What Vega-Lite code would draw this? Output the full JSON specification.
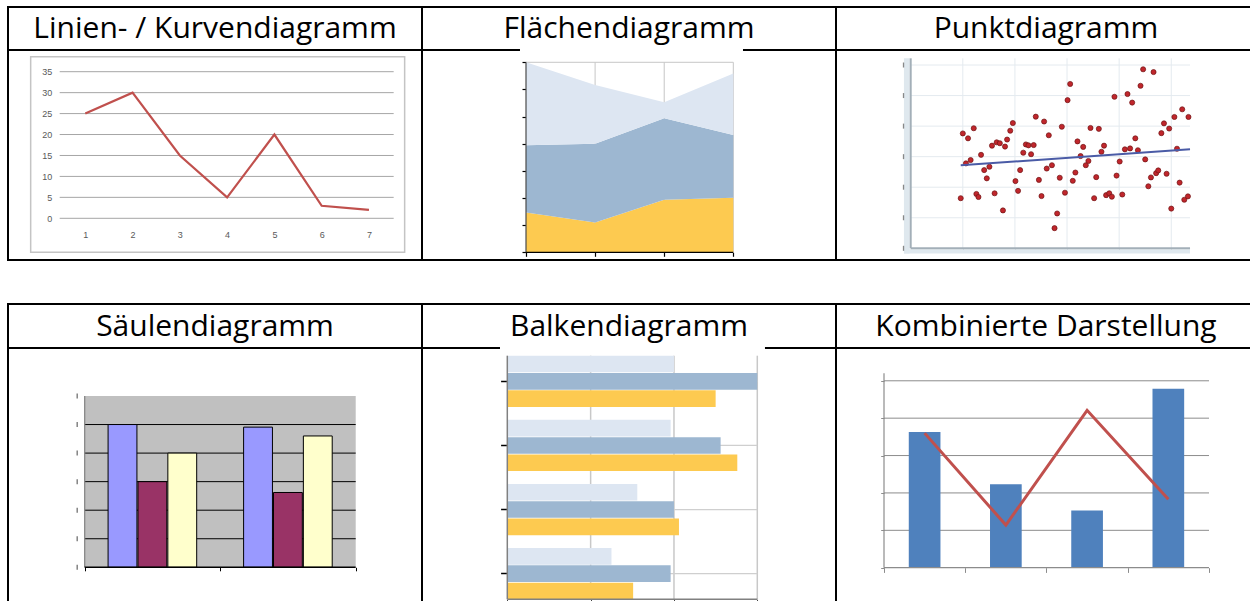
{
  "$schema": "https://vega.github.io/schema/vega-lite/v6.json",
  "padding": {"left": 7, "top": 6, "right": -7, "bottom": -8},
  "background": "white",
  "config": {
    "view": {"stroke": "black", "strokeWidth": 2},
    "axis": {"labelFont": "Liberation Sans", "labelFontSize": 9, "labelColor": "#595959"}
  },
  "columns": 3,
  "spacing": 0,
  "bounds": "flush",
  "align": "each",
  "resolve": {"scale": {"color": "independent"}, "legend": {"color": "independent"}},
  "concat": [
    {"width": 414, "height": 43, "view": {"stroke": "black", "strokeWidth": 2}, "data": {"values": [{"t": "Linien- / Kurvendiagramm"}]}, "mark": {"type": "text", "font": "Open Sans", "fontSize": 30, "baseline": "alphabetic", "dy": 9.5, "color": "black"}, "encoding": {"text": {"field": "t"}}},
    {"width": 414, "height": 43, "view": {"stroke": "black", "strokeWidth": 2}, "data": {"values": [{"t": "Flächendiagramm"}]}, "mark": {"type": "text", "font": "Open Sans", "fontSize": 30, "baseline": "alphabetic", "dy": 9.5, "color": "black"}, "encoding": {"text": {"field": "t"}}},
    {"width": 420, "height": 43, "view": {"stroke": "black", "strokeWidth": 2}, "data": {"values": [{"t": "Punktdiagramm"}]}, "mark": {"type": "text", "font": "Open Sans", "fontSize": 30, "baseline": "alphabetic", "dy": 9.5, "color": "black"}, "encoding": {"text": {"field": "t"}}},
    {
      "width": 414, "height": 210,
      "resolve": {"axis": {"x": "independent", "y": "independent"}},
      "layer": [
        {
          "data": {"values": [{}]},
          "mark": {"type": "rect", "fill": null, "stroke": "#c4c4c4", "strokeWidth": 1.5},
          "encoding": {
            "x": {"datum": -0.155, "axis": null},
            "x2": {"datum": 7.755},
            "y": {"datum": 38.58, "axis": null},
            "y2": {"datum": -8.12}
          }
        },
        {
          "data": {"values": [{"g": 0}, {"g": 5}, {"g": 10}, {"g": 15}, {"g": 20}, {"g": 25}, {"g": 30}, {"g": 35}]},
          "mark": {"type": "rule", "color": "#a6a6a6", "strokeWidth": 1},
          "encoding": {
            "x": {"datum": 0.459, "axis": null},
            "x2": {"datum": 7.523},
            "y": {"field": "g", "type": "quantitative", "axis": null}
          }
        },
        {
          "data": {"values": [{"x": 1, "y": 25}, {"x": 2, "y": 30}, {"x": 3, "y": 15}, {"x": 4, "y": 5}, {"x": 5, "y": 20}, {"x": 6, "y": 3}, {"x": 7, "y": 2}]},
          "mark": {"type": "line", "color": "#c0504d", "strokeWidth": 2.2},
          "encoding": {
            "x": {"field": "x", "type": "quantitative", "scale": {"domain": [-0.6345, 8.122], "nice": false, "zero": false},
              "axis": {"orient": "bottom", "offset": -41.7, "values": [1, 2, 3, 4, 5, 6, 7], "format": "d", "grid": false, "domain": false, "ticks": false, "labelPadding": 12, "title": null}},
            "y": {"field": "y", "type": "quantitative", "scale": {"domain": [-9.955, 40.18], "nice": false, "zero": false},
              "axis": {"orient": "left", "offset": -51.7, "values": [0, 5, 10, 15, 20, 25, 30, 35], "grid": false, "domain": false, "ticks": false, "labelPadding": 8, "title": null}}
          }
        }
      ]
    },
    {
      "width": 414, "height": 210,
      "resolve": {"axis": {"x": "independent", "y": "independent"}},
      "layer": [
        {
          "data": {"values": [{"g": 1}, {"g": 2}, {"g": 3}]},
          "mark": {"type": "rule", "color": "#c6c6c6", "strokeWidth": 1},
          "encoding": {"x": {"field": "g", "type": "quantitative", "axis": null}, "y": {"datum": 0, "axis": null}, "y2": {"datum": 70}}
        },
        {
          "data": {"values": [{}]},
          "mark": {"type": "rule", "color": "#c6c6c6", "strokeWidth": 1},
          "encoding": {"x": {"datum": 0, "axis": null}, "x2": {"datum": 3}, "y": {"datum": 70, "axis": null}}
        },
        {
          "data": {"values": [{"x": 0, "s": "3", "v": 14.7}, {"x": 1, "s": "3", "v": 11.0}, {"x": 2, "s": "3", "v": 19.4}, {"x": 3, "s": "3", "v": 20.1},
                              {"x": 0, "s": "2", "v": 24.7}, {"x": 1, "s": "2", "v": 29.0}, {"x": 2, "s": "2", "v": 30.0}, {"x": 3, "s": "2", "v": 23.1},
                              {"x": 0, "s": "1", "v": 30.6}, {"x": 1, "s": "1", "v": 21.6}, {"x": 2, "s": "1", "v": 5.9}, {"x": 3, "s": "1", "v": 22.7}]},
          "mark": {"type": "area", "opacity": 1},
          "encoding": {
            "x": {"field": "x", "type": "quantitative", "scale": {"domain": [-1.505, 4.486], "nice": false, "zero": false},
              "axis": {"orient": "bottom", "offset": -7.7, "values": [0, 1, 2, 3], "labels": false, "domain": false, "tickSize": 4, "tickColor": "black", "tickWidth": 1.2, "grid": false, "title": null}},
            "y": {"field": "v", "type": "quantitative", "stack": "zero", "scale": {"domain": [-2.837, 74.53], "nice": false, "zero": false},
              "axis": {"orient": "left", "offset": -104, "values": [0, 10, 20, 30, 40, 50, 60, 70], "labels": false, "domain": false, "tickSize": 4, "tickColor": "black", "tickWidth": 1.2, "grid": false, "title": null}},
            "color": {"field": "s", "type": "nominal", "scale": {"domain": ["1", "2", "3"], "range": ["#dde6f2", "#9db7d1", "#fdca50"]}, "legend": null}
          }
        },
        {
          "data": {"values": [{}]},
          "mark": {"type": "rule", "color": "#4a4a4a", "strokeWidth": 1.2},
          "encoding": {"x": {"datum": 0, "axis": null}, "y": {"datum": 0, "axis": null}, "y2": {"datum": 70}}
        },
        {
          "data": {"values": [{}]},
          "mark": {"type": "rule", "color": "black", "strokeWidth": 1.2},
          "encoding": {"x": {"datum": 0, "axis": null}, "x2": {"datum": 3}, "y": {"datum": 0, "axis": null}}
        },
        {
          "data": {"values": [{}]},
          "mark": {"type": "rect", "fill": "white"},
          "encoding": {"x": {"datum": -0.087, "axis": null}, "x2": {"datum": 3.14}, "y": {"datum": 75.09, "axis": null}, "y2": {"datum": 73.91}}
        }
      ]
    },
    {
      "width": 420, "height": 210,
      "resolve": {"axis": {"x": "independent", "y": "independent"}},
      "layer": [
        {
          "data": {"values": [{}]},
          "mark": {"type": "rect", "fill": "#dfe8ee"},
          "encoding": {"x": {"datum": -0.13, "axis": null}, "x2": {"datum": -0.02}, "y": {"datum": -0.17, "axis": null}, "y2": {"datum": 6.22}}
        },
        {
          "data": {"values": [{}]},
          "mark": {"type": "rect", "fill": "#dfe8ee"},
          "encoding": {"x": {"datum": -0.13, "axis": null}, "x2": {"datum": 5.36}, "y": {"datum": -0.17, "axis": null}, "y2": {"datum": -0.03}}
        },
        {
          "data": {"values": [{"g": 0}, {"g": 1}, {"g": 2}, {"g": 3}, {"g": 4}, {"g": 5}, {"g": 6}]},
          "mark": {"type": "tick", "orient": "vertical", "size": 5, "thickness": 1.3, "color": "#555555"},
          "encoding": {"x": {"datum": -0.138, "axis": null}, "y": {"field": "g", "type": "quantitative", "axis": null}}
        },
        {
          "data": {"values": [{"g": 1}, {"g": 2}, {"g": 3}, {"g": 4}, {"g": 5}]},
          "mark": {"type": "rule", "color": "#e4eaef", "strokeWidth": 1},
          "encoding": {"x": {"field": "g", "type": "quantitative", "axis": null}, "y": {"datum": 0, "axis": null}, "y2": {"datum": 6.22}}
        },
        {
          "data": {"values": [{"g": 1}, {"g": 2}, {"g": 3}, {"g": 4}, {"g": 5}, {"g": 6}]},
          "mark": {"type": "rule", "color": "#e4eaef", "strokeWidth": 1},
          "encoding": {"y": {"field": "g", "type": "quantitative", "axis": null}, "x": {"datum": 0, "axis": null}, "x2": {"datum": 5.36}}
        },
        {
          "data": {"values": [{}]},
          "mark": {"type": "rule", "color": "#a3afb8", "strokeWidth": 2},
          "encoding": {"x": {"datum": 0, "axis": null}, "y": {"datum": 0, "axis": null}, "y2": {"datum": 6.22}}
        },
        {
          "data": {"values": [{}]},
          "mark": {"type": "rule", "color": "#a3afb8", "strokeWidth": 2},
          "encoding": {"x": {"datum": 0, "axis": null}, "x2": {"datum": 5.36}, "y": {"datum": 0, "axis": null}}
        },
        {
          "data": {"values": [
            {"x": 1.00, "y": 3.76}, {"x": 1.10, "y": 3.60}, {"x": 1.21, "y": 3.93}, {"x": 1.06, "y": 2.78}, {"x": 1.15, "y": 2.89},
            {"x": 1.35, "y": 3.06}, {"x": 0.96, "y": 1.64}, {"x": 1.26, "y": 1.78}, {"x": 1.30, "y": 1.68}, {"x": 1.41, "y": 2.56},
            {"x": 1.46, "y": 2.29}, {"x": 1.51, "y": 2.67}, {"x": 1.56, "y": 3.36}, {"x": 1.65, "y": 3.47}, {"x": 1.71, "y": 3.44},
            {"x": 1.61, "y": 1.80}, {"x": 1.77, "y": 1.24}, {"x": 1.81, "y": 3.33}, {"x": 1.85, "y": 3.56}, {"x": 1.91, "y": 3.85},
            {"x": 1.96, "y": 4.10}, {"x": 2.01, "y": 2.20}, {"x": 2.06, "y": 1.88}, {"x": 2.10, "y": 2.56}, {"x": 2.16, "y": 3.13},
            {"x": 2.21, "y": 3.40}, {"x": 2.26, "y": 3.37}, {"x": 2.31, "y": 3.08}, {"x": 2.36, "y": 3.38}, {"x": 2.40, "y": 4.31},
            {"x": 2.46, "y": 2.24}, {"x": 2.51, "y": 1.71}, {"x": 2.56, "y": 4.15}, {"x": 2.61, "y": 2.61}, {"x": 2.65, "y": 3.70},
            {"x": 2.71, "y": 2.72}, {"x": 2.90, "y": 3.98}, {"x": 2.86, "y": 2.31}, {"x": 2.96, "y": 1.82}, {"x": 2.81, "y": 1.14},
            {"x": 2.76, "y": 0.66}, {"x": 3.01, "y": 4.85}, {"x": 3.06, "y": 5.38}, {"x": 3.11, "y": 2.21}, {"x": 3.16, "y": 2.48},
            {"x": 3.20, "y": 3.50}, {"x": 3.26, "y": 3.02}, {"x": 3.31, "y": 3.32}, {"x": 3.36, "y": 2.72}, {"x": 3.41, "y": 2.86},
            {"x": 3.45, "y": 3.94}, {"x": 3.52, "y": 1.64}, {"x": 3.56, "y": 2.33}, {"x": 3.61, "y": 3.91}, {"x": 3.66, "y": 3.16},
            {"x": 3.71, "y": 3.36}, {"x": 3.75, "y": 1.74}, {"x": 3.81, "y": 1.80}, {"x": 3.86, "y": 1.69}, {"x": 3.91, "y": 4.96},
            {"x": 3.95, "y": 2.38}, {"x": 4.01, "y": 2.84}, {"x": 4.06, "y": 1.76}, {"x": 4.11, "y": 3.24}, {"x": 4.16, "y": 5.05},
            {"x": 4.21, "y": 3.27}, {"x": 4.25, "y": 4.77}, {"x": 4.31, "y": 3.60}, {"x": 4.36, "y": 3.21}, {"x": 4.41, "y": 5.32},
            {"x": 4.46, "y": 5.86}, {"x": 4.50, "y": 2.91}, {"x": 4.56, "y": 2.03}, {"x": 4.61, "y": 2.32}, {"x": 4.66, "y": 5.77},
            {"x": 4.71, "y": 2.46}, {"x": 4.75, "y": 2.55}, {"x": 4.81, "y": 3.77}, {"x": 4.86, "y": 4.09}, {"x": 4.91, "y": 2.44},
            {"x": 4.96, "y": 3.92}, {"x": 5.00, "y": 1.30}, {"x": 5.06, "y": 4.30}, {"x": 5.11, "y": 3.26}, {"x": 5.16, "y": 2.15},
            {"x": 5.21, "y": 4.55}, {"x": 5.25, "y": 1.59}, {"x": 5.32, "y": 1.70}, {"x": 5.33, "y": 4.30}
          ]},
          "mark": {"type": "circle", "size": 26, "color": "#c0262c", "stroke": "#6e1414", "strokeWidth": 0.7, "opacity": 1},
          "encoding": {
            "x": {"field": "x", "type": "quantitative", "scale": {"domain": [-1.4335, 6.626], "nice": false, "zero": false},
              "axis": {"orient": "bottom", "offset": -11.7, "values": [1, 2, 3, 4, 5], "labels": false, "domain": false, "tickSize": 3, "tickColor": "#b5c0c8", "grid": false, "title": null}},
            "y": {"field": "y", "type": "quantitative", "scale": {"domain": [-0.383, 6.4917], "nice": false, "zero": false}, "axis": null}
          }
        },
        {
          "data": {"values": [{"x": 0.96, "y": 2.72}, {"x": 5.36, "y": 3.24}]},
          "mark": {"type": "line", "color": "#4a5ba6", "strokeWidth": 2},
          "encoding": {"x": {"field": "x", "type": "quantitative", "axis": null}, "y": {"field": "y", "type": "quantitative", "axis": null}}
        }
      ]
    },
    {"width": 414, "height": 44, "view": {"stroke": null}, "data": {"values": [{"t": ""}]}, "mark": {"type": "text"}, "encoding": {"text": {"field": "t"}}},
    {"width": 414, "height": 44, "view": {"stroke": null}, "data": {"values": [{"t": ""}]}, "mark": {"type": "text"}, "encoding": {"text": {"field": "t"}}},
    {"width": 420, "height": 44, "view": {"stroke": null}, "data": {"values": [{"t": ""}]}, "mark": {"type": "text"}, "encoding": {"text": {"field": "t"}}},
    {"width": 414, "height": 44, "view": {"stroke": "black", "strokeWidth": 2}, "data": {"values": [{"t": "Säulendiagramm"}]}, "mark": {"type": "text", "font": "Open Sans", "fontSize": 30, "baseline": "alphabetic", "dy": 9.5, "color": "black"}, "encoding": {"text": {"field": "t"}}},
    {"width": 414, "height": 44, "view": {"stroke": "black", "strokeWidth": 2}, "data": {"values": [{"t": "Balkendiagramm"}]}, "mark": {"type": "text", "font": "Open Sans", "fontSize": 30, "baseline": "alphabetic", "dy": 9.5, "color": "black"}, "encoding": {"text": {"field": "t"}}},
    {"width": 420, "height": 44, "view": {"stroke": "black", "strokeWidth": 2}, "data": {"values": [{"t": "Kombinierte Darstellung"}]}, "mark": {"type": "text", "font": "Open Sans", "fontSize": 30, "baseline": "alphabetic", "dy": 9.5, "color": "black"}, "encoding": {"text": {"field": "t"}}},
    {
      "width": 414, "height": 260,
      "resolve": {"scale": {"x": "independent"}, "axis": {"x": "independent", "y": "independent"}},
      "layer": [
        {
          "data": {"values": [{}]},
          "mark": {"type": "rect", "fill": "#c0c0c0"},
          "encoding": {
            "x": {"datum": 0, "scale": {"domain": [-0.283, 1.2446], "nice": false, "zero": false}, "axis": null},
            "x2": {"datum": 1},
            "y": {"datum": 0, "axis": null},
            "y2": {"datum": 6}
          }
        },
        {
          "data": {"values": [{"g": 1}, {"g": 2}, {"g": 3}, {"g": 4}, {"g": 5}]},
          "mark": {"type": "rule", "color": "black", "strokeWidth": 1},
          "encoding": {
            "x": {"datum": 0, "scale": {"domain": [-0.283, 1.2446], "nice": false, "zero": false}, "axis": null},
            "x2": {"datum": 1},
            "y": {"field": "g", "type": "quantitative", "axis": null}
          }
        },
        {
          "data": {"values": [{"g": 0}, {"g": 1}, {"g": 2}, {"g": 3}, {"g": 4}, {"g": 5}, {"g": 6}]},
          "mark": {"type": "tick", "orient": "vertical", "size": 5, "thickness": 1.3, "color": "#333333"},
          "encoding": {
            "x": {"datum": -0.0277, "scale": {"domain": [-0.283, 1.2446], "nice": false, "zero": false}, "axis": null},
            "y": {"field": "g", "type": "quantitative", "axis": null}
          }
        },
        {
          "data": {"values": [{"g": "A", "s": "1", "v": 5}, {"g": "A", "s": "2", "v": 3}, {"g": "A", "s": "3", "v": 4},
                              {"g": "B", "s": "1", "v": 4.91}, {"g": "B", "s": "2", "v": 2.62}, {"g": "B", "s": "3", "v": 4.6}]},
          "mark": {"type": "bar", "stroke": "black", "strokeWidth": 1},
          "encoding": {
            "x": {"field": "g", "type": "nominal", "scale": {"paddingInner": 0, "paddingOuter": 0.5275, "align": 0.536},
              "axis": {"orient": "bottom", "offset": -40.7, "tickBand": "extent", "labels": false, "domain": false, "tickSize": 3.5, "tickColor": "black", "grid": false, "title": null}},
            "xOffset": {"field": "s", "type": "nominal", "scale": {"paddingInner": 0.035, "paddingOuter": 0.785}},
            "y": {"field": "v", "type": "quantitative", "scale": {"domain": [-1.4256, 7.681], "nice": false, "zero": false}, "axis": null},
            "y2": {"datum": 0},
            "color": {"field": "s", "type": "nominal", "scale": {"domain": ["1", "2", "3"], "range": ["#9999ff", "#993366", "#ffffcc"]}, "legend": null}
          }
        },
        {
          "data": {"values": [{}]},
          "mark": {"type": "rule", "color": "#808080", "strokeWidth": 1.2},
          "encoding": {
            "x": {"datum": 0, "scale": {"domain": [-0.283, 1.2446], "nice": false, "zero": false}, "axis": null},
            "y": {"datum": 0, "axis": null},
            "y2": {"datum": 6}
          }
        },
        {
          "data": {"values": [{}]},
          "mark": {"type": "rule", "color": "black", "strokeWidth": 1.5},
          "encoding": {
            "x": {"datum": 0, "scale": {"domain": [-0.283, 1.2446], "nice": false, "zero": false}, "axis": null},
            "x2": {"datum": 1},
            "y": {"datum": 0, "axis": null}
          }
        }
      ]
    },
    {
      "width": 414, "height": 260,
      "resolve": {"scale": {"y": "independent"}, "axis": {"x": "independent", "y": "independent"}},
      "layer": [
        {
          "data": {"values": [{"g": 10}, {"g": 20}, {"g": 30}]},
          "mark": {"type": "rule", "color": "#c8c8c8", "strokeWidth": 1.5},
          "encoding": {
            "x": {"field": "g", "type": "quantitative", "axis": null},
            "y": {"datum": 0, "scale": {"domain": [-0.0357, 1.0316], "nice": false, "zero": false}, "axis": null},
            "y2": {"datum": 1}
          }
        },
        {
          "data": {"values": [{"c": "G1"}, {"c": "G2"}, {"c": "G3"}, {"c": "G4"}]},
          "mark": {"type": "rule", "color": "#cfcfcf", "strokeWidth": 1.2},
          "encoding": {
            "y": {"field": "c", "type": "nominal", "scale": {"domain": ["G1", "G2", "G3", "G4"], "paddingInner": 0.2, "paddingOuter": 0.128, "align": 0.47}, "axis": null},
            "x": {"datum": 0, "axis": null},
            "x2": {"datum": 30}
          }
        },
        {
          "data": {"values": [{"g": "G1", "s": "1", "v": 20}, {"g": "G1", "s": "2", "v": 30}, {"g": "G1", "s": "3", "v": 25},
                              {"g": "G2", "s": "1", "v": 19.6}, {"g": "G2", "s": "2", "v": 25.6}, {"g": "G2", "s": "3", "v": 27.6},
                              {"g": "G3", "s": "1", "v": 15.6}, {"g": "G3", "s": "2", "v": 20}, {"g": "G3", "s": "3", "v": 20.6},
                              {"g": "G4", "s": "1", "v": 12.5}, {"g": "G4", "s": "2", "v": 19.6}, {"g": "G4", "s": "3", "v": 15.1}]},
          "mark": {"type": "bar"},
          "encoding": {
            "x": {"field": "v", "type": "quantitative", "scale": {"domain": [-10.236, 39.444], "nice": false, "zero": false},
              "axis": {"orient": "bottom", "offset": -8.7, "values": [0, 10, 20, 30], "labels": false, "domain": false, "tickSize": 4, "tickColor": "#444444", "grid": false, "title": null}},
            "x2": {"datum": 0},
            "y": {"field": "g", "type": "nominal", "scale": {"domain": ["G1", "G2", "G3", "G4"], "paddingInner": 0.2, "paddingOuter": 0.128, "align": 0.47},
              "axis": {"orient": "left", "offset": -85.3, "bandPosition": 0.5, "labels": false, "domain": false, "tickSize": 6.7, "tickColor": "black", "tickWidth": 1.5, "grid": false, "title": null}},
            "yOffset": {"field": "s", "type": "nominal", "scale": {"paddingInner": 0.04}},
            "color": {"field": "s", "type": "nominal", "scale": {"domain": ["1", "2", "3"], "range": ["#dde6f2", "#9db7d1", "#fdca50"]}, "legend": null}
          }
        },
        {
          "data": {"values": [{}]},
          "mark": {"type": "rule", "color": "#808080", "strokeWidth": 1.5},
          "encoding": {
            "x": {"datum": 0, "axis": null},
            "y": {"datum": 0, "scale": {"domain": [-0.0357, 1.0316], "nice": false, "zero": false}, "axis": null},
            "y2": {"datum": 1}
          }
        },
        {
          "data": {"values": [{}]},
          "mark": {"type": "rule", "color": "#808080", "strokeWidth": 1.5},
          "encoding": {
            "x": {"datum": 0, "axis": null},
            "x2": {"datum": 30},
            "y": {"datum": 0, "scale": {"domain": [-0.0357, 1.0316], "nice": false, "zero": false}, "axis": null}
          }
        },
        {
          "data": {"values": [{}]},
          "mark": {"type": "rule", "color": "white", "strokeWidth": 3.6},
          "encoding": {
            "x": {"datum": -0.876, "axis": null},
            "x2": {"datum": 30.92},
            "y": {"datum": 1.0306, "scale": {"domain": [-0.0357, 1.0316], "nice": false, "zero": false}, "axis": null}
          }
        }
      ]
    },
    {
      "width": 420, "height": 260,
      "resolve": {"scale": {"x": "independent"}, "axis": {"x": "independent", "y": "independent"}},
      "layer": [
        {
          "data": {"values": [{"g": 10}, {"g": 20}, {"g": 30}, {"g": 40}, {"g": 50}]},
          "mark": {"type": "rule", "color": "#8c8c8c", "strokeWidth": 1},
          "encoding": {
            "x": {"datum": 0, "scale": {"domain": [-0.1477, 1.1446], "nice": false, "zero": false}, "axis": null},
            "x2": {"datum": 1},
            "y": {"field": "g", "type": "quantitative", "axis": null}
          }
        },
        {
          "data": {"values": [{"c": "A", "b": 36.3}, {"c": "B", "b": 22.3}, {"c": "C", "b": 15.3}, {"c": "D", "b": 47.9}]},
          "mark": {"type": "bar", "width": {"band": 0.39}, "color": "#4f81bd"},
          "encoding": {
            "x": {"field": "c", "type": "nominal", "scale": {"type": "band", "paddingInner": 0, "paddingOuter": 0.585, "align": 0.505},
              "axis": {"orient": "bottom", "offset": -40.3, "tickBand": "extent", "labels": false, "domain": false, "tickSize": 4.7, "tickColor": "#8c8c8c", "grid": false, "title": null}},
            "y": {"field": "b", "type": "quantitative", "scale": {"domain": [-10.78, 58.77], "nice": false, "zero": false},
              "axis": {"orient": "left", "offset": -48, "values": [0, 10, 20, 30, 40, 50], "labels": false, "domain": false, "tickSize": 3.3, "tickColor": "#8c8c8c", "grid": false, "title": null}},
            "y2": {"datum": 0}
          }
        },
        {
          "data": {"values": [{}]},
          "mark": {"type": "rule", "color": "#8c8c8c", "strokeWidth": 1.2},
          "encoding": {
            "x": {"datum": 0, "scale": {"domain": [-0.1477, 1.1446], "nice": false, "zero": false}, "axis": null},
            "y": {"datum": 0, "axis": null},
            "y2": {"datum": 52}
          }
        },
        {
          "data": {"values": [{}]},
          "mark": {"type": "rule", "color": "#8c8c8c", "strokeWidth": 1.2},
          "encoding": {
            "x": {"datum": 0, "scale": {"domain": [-0.1477, 1.1446], "nice": false, "zero": false}, "axis": null},
            "x2": {"datum": 1},
            "y": {"datum": 0, "axis": null}
          }
        },
        {
          "data": {"values": [{"c": "A", "l": 36}, {"c": "B", "l": 11.4}, {"c": "C", "l": 42.1}, {"c": "D", "l": 18.3}]},
          "mark": {"type": "line", "color": "#c0504d", "strokeWidth": 3},
          "encoding": {
            "x": {"field": "c", "type": "nominal", "scale": {"type": "band", "paddingInner": 0, "paddingOuter": 0.585, "align": 0.505}, "axis": null},
            "y": {"field": "l", "type": "quantitative", "axis": null}
          }
        }
      ]
    }
  ]
}
